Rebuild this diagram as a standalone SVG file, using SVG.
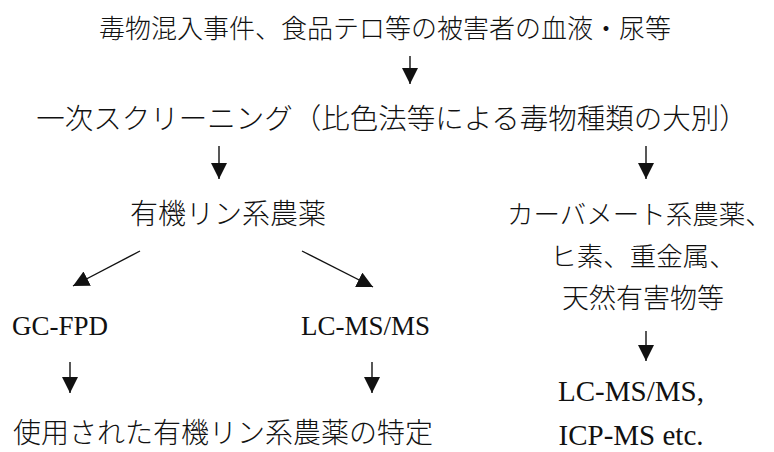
<svg xmlns="http://www.w3.org/2000/svg" width="774" height="452" viewBox="0 0 774 452">
<defs>
<style>
.jp{font-family:"Noto Sans CJK JP","Noto Sans CJK SC",sans-serif;font-weight:300;font-size:28px;fill:#111}
.en{font-family:"Liberation Serif",serif;font-size:27px;fill:#111}
.c{text-anchor:middle}
.arr{stroke:#111;stroke-width:1.4;fill:none;marker-end:url(#ah)}
</style>
<marker id="ah" markerUnits="userSpaceOnUse" viewBox="0 0 16 16" refX="16" refY="8" markerWidth="16" markerHeight="16" orient="auto">
<path d="M0,0 L16,8 L0,16 z" fill="#111"/>
</marker>
</defs>
<rect width="774" height="452" fill="#fff"/>
<g id="n-source"><text class="jp c" x="385" y="38" style="font-size:26px">毒物混入事件、食品テロ等の被害者の血液・尿等</text></g>
<g id="n-screening"><text class="jp c" x="392" y="129" style="font-size:28.5px">一次スクリーニング（比色法等による毒物種類の大別）</text></g>
<g id="n-op"><text class="jp c" x="228" y="224">有機リン系農薬</text></g>
<g id="n-other">
<text class="jp" x="507" y="224" style="font-size:26.5px">カーバメート系農薬、</text>
<text class="jp c" x="643" y="266" style="font-size:26.5px">ヒ素、重金属、</text>
<text class="jp c" x="643" y="308" style="font-size:27px">天然有害物等</text>
</g>
<g id="n-gcfpd"><text class="en" x="12" y="335">GC-FPD</text></g>
<g id="n-lcmsms"><text class="en" x="301" y="335">LC-MS/MS</text></g>
<g id="n-identify"><text class="jp" x="13" y="443">使用された有機リン系農薬の特定</text></g>
<g id="n-methods">
<text class="en c" x="631" y="401" style="font-size:29px">LC-MS/MS,</text>
<text class="en c" x="631" y="445" style="font-size:29px">ICP-MS etc.</text>
</g>
<g id="connectors">
<line class="arr" x1="410" y1="56" x2="410" y2="84"/>
<line class="arr" x1="219" y1="146" x2="219" y2="179"/>
<line class="arr" x1="646" y1="146" x2="646" y2="179"/>
<line class="arr" x1="140" y1="251" x2="73" y2="286"/>
<line class="arr" x1="302" y1="251" x2="373" y2="287"/>
<line class="arr" x1="70" y1="362" x2="70" y2="393"/>
<line class="arr" x1="372" y1="362" x2="372" y2="393"/>
<line class="arr" x1="646" y1="331" x2="646" y2="361"/>
</g>
</svg>
